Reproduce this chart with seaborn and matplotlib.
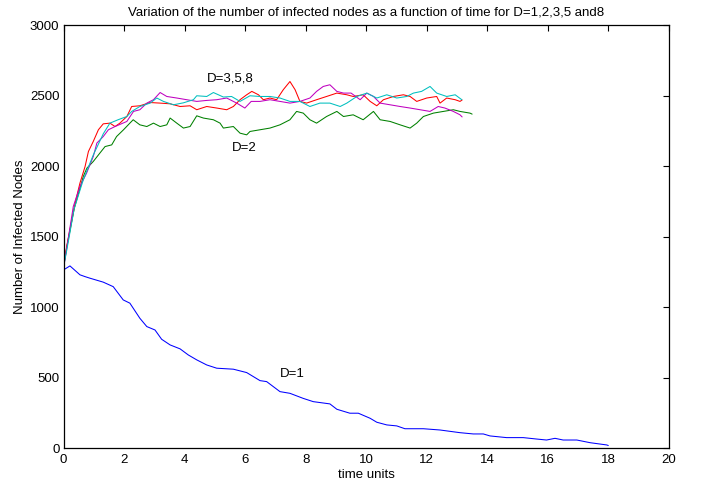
import matplotlib
matplotlib.use("Agg")
import matplotlib.pyplot as plt
import seaborn as sns
import pandas as pd

# ---- data ----
t_d1 = [0.0, 0.21, 0.54, 0.71, 0.87, 1.31, 1.64, 1.97, 2.19, 2.52, 2.75, 3.02, 3.24, 3.52, 3.85,
        4.12, 4.40, 4.73, 5.06, 5.61, 6.05, 6.49, 6.71, 7.15, 7.48, 7.92, 8.25, 8.80, 9.03,
        9.46, 9.74, 10.13, 10.35, 10.68, 11.01, 11.28, 11.89, 12.44, 13.10, 13.54, 13.87,
        14.09, 14.64, 15.19, 15.63, 15.96, 16.24, 16.51, 16.96, 17.40, 17.95, 18.0]
v_d1 = [1266, 1294, 1231, 1218, 1207, 1179, 1147, 1053, 1030, 923, 864, 840, 774, 734, 706,
        663, 628, 592, 569, 562, 538, 481, 474, 403, 391, 355, 332, 316, 278,
        250, 250, 214, 186, 167, 160, 140, 140, 131, 112, 103, 103,
        89, 77, 77, 67, 60, 72, 60, 60, 41, 25, 21]

t_d2 = [0.0, 0.10, 0.35, 0.55, 0.65, 0.77, 0.98, 1.20, 1.37, 1.59, 1.75, 1.98, 2.19, 2.30, 2.52,
        2.75, 2.97, 3.19, 3.41, 3.52, 3.74, 3.96, 4.18, 4.40, 4.62, 4.95, 5.17, 5.28, 5.61,
        5.83, 6.05, 6.16, 6.49, 6.82, 7.15, 7.48, 7.70, 7.92, 8.14, 8.36, 8.69, 9.03, 9.25,
        9.57, 9.90, 10.24, 10.46, 10.79, 11.12, 11.45, 11.67, 11.89, 12.22, 12.55, 12.88,
        13.10, 13.43, 13.50]
v_d2 = [1290, 1420, 1700, 1850, 1928, 1987, 2034, 2094, 2140, 2152, 2211, 2259, 2306, 2330, 2294,
        2282, 2306, 2282, 2294, 2342, 2306, 2271, 2282, 2358, 2342, 2330, 2306, 2271, 2282,
        2235, 2223, 2247, 2259, 2271, 2294, 2330, 2389, 2377, 2330, 2306, 2353, 2389, 2353,
        2365, 2330, 2389, 2330, 2318, 2294, 2271, 2306, 2353, 2377, 2389, 2401,
        2389, 2377, 2370]

t_d3 = [0.0, 0.10, 0.35, 0.65, 0.98, 1.31, 1.53, 1.80, 2.09, 2.25, 2.52, 2.86, 3.08, 3.30, 3.63,
        3.96, 4.29, 4.40, 4.73, 4.95, 5.28, 5.55, 5.83, 6.16, 6.49, 6.82, 7.15, 7.48, 7.81,
        8.14, 8.47, 8.80, 9.14, 9.36, 9.69, 10.02, 10.35, 10.68, 11.01, 11.34, 11.56, 11.83,
        12.11, 12.33, 12.66, 12.94, 13.16]
v_d3 = [1290, 1400, 1700, 1904, 2080, 2230, 2306, 2330, 2353, 2389, 2424, 2448, 2484, 2460, 2436,
        2450, 2472, 2500, 2495, 2523, 2491, 2495, 2460, 2500, 2495, 2495, 2484, 2460, 2460,
        2424, 2448, 2448, 2424, 2448, 2495, 2519, 2484, 2507, 2484, 2495, 2519, 2531,
        2566, 2519, 2495, 2507, 2472]

t_d5 = [0.0, 0.10, 0.38, 0.54, 0.71, 0.82, 0.98, 1.15, 1.31, 1.53, 1.70, 1.86, 2.09, 2.25, 2.52,
        2.86, 3.19, 3.52, 3.85, 4.18, 4.40, 4.73, 5.06, 5.39, 5.61, 5.83, 6.05, 6.22, 6.44,
        6.60, 6.82, 7.04, 7.26, 7.48, 7.65, 7.81, 8.03, 8.36, 8.69, 9.03, 9.36, 9.57, 9.90,
        10.13, 10.35, 10.57, 10.90, 11.23, 11.45, 11.67, 12.00, 12.33, 12.44, 12.66, 12.94,
        13.10, 13.17]
v_d5 = [1294, 1431, 1739, 1881, 1999, 2105, 2176, 2259, 2301, 2306, 2282, 2306, 2353, 2424, 2429,
        2452, 2448, 2443, 2424, 2429, 2401, 2424, 2413, 2401, 2424, 2472, 2507, 2531, 2507,
        2472, 2484, 2472, 2543, 2601, 2543, 2460, 2448, 2472, 2495, 2519, 2507, 2495, 2507,
        2460, 2429, 2472, 2495, 2507, 2495, 2460, 2484, 2495, 2448, 2484, 2472,
        2460, 2470]

t_d8 = [0.0, 0.32, 0.54, 0.76, 0.98, 1.10, 1.31, 1.48, 1.70, 2.09, 2.31, 2.52, 2.75, 2.97, 3.19,
        3.41, 3.74, 4.07, 4.40, 4.73, 5.06, 5.39, 5.72, 5.99, 6.20, 6.49, 6.82, 7.15, 7.48,
        7.81, 8.14, 8.36, 8.58, 8.80, 9.03, 9.25, 9.50, 9.80, 10.02, 10.24, 10.46, 10.79,
        11.12, 11.45, 11.78, 12.11, 12.38, 12.60, 12.88, 13.10, 13.17]
v_d8 = [1280, 1715, 1857, 1952, 2069, 2165, 2211, 2259, 2282, 2318, 2389, 2401, 2448, 2472, 2523,
        2495, 2484, 2472, 2460, 2467, 2472, 2484, 2448, 2413, 2460, 2460, 2472, 2460, 2448,
        2460, 2484, 2531, 2566, 2578, 2531, 2519, 2519, 2472, 2519, 2495, 2448, 2436,
        2424, 2413, 2401, 2389, 2424, 2413, 2389, 2365, 2350]

series_names = ["D=1", "D=2", "D=3", "D=5", "D=8"]
series_t = [t_d1, t_d2, t_d3, t_d5, t_d8]
series_v = [v_d1, v_d2, v_d3, v_d5, v_d8]
colors = {"D=1": "#0000FF", "D=2": "#008000", "D=3": "#00BFBF", "D=5": "#FF0000", "D=8": "#BF00BF"}

title = "Variation of the number of infected nodes as a function of time for D=1,2,3,5 and8"
xlabel = "time units"
ylabel = "Number of Infected Nodes"
xticks = [0, 2, 4, 6, 8, 10, 12, 14, 16, 18, 20]
yticks = [0, 500, 1000, 1500, 2000, 2500, 3000]
annotations = [("D=3,5,8", 5.5, 2620), ("D=2", 5.96, 2129), ("D=1", 7.56, 528)]

frames = []
for name, tt, vv in zip(series_names, series_t, series_v):
    frames.append(pd.DataFrame({"t": tt, "v": vv, "D": name, "order": range(len(tt))}))
df = pd.concat(frames, ignore_index=True)

sns.set_theme(style="white")
plt.rcParams["font.family"] = ["Liberation Sans", "DejaVu Sans"]

FS = 9.5
fig = plt.figure(figsize=(7.02, 4.86), dpi=100)
ax = fig.add_axes([0.0906, 0.0772, 0.8621, 0.8709])

sns.lineplot(data=df, x="t", y="v", hue="D", palette=colors, hue_order=["D=2", "D=5", "D=8", "D=3", "D=1"],
             estimator=None, sort=False, linewidth=0.75, legend=False, ax=ax)

ax.set_xlim(0, 20)
ax.set_ylim(0, 3000)
ax.set_xticks(xticks)
ax.set_yticks(yticks)
ax.tick_params(direction="in", top=True, right=True, length=4, width=0.8, color="black",
               labelsize=FS, labelcolor="black", pad=4)
ax.tick_params(axis="y", pad=3)
for s in ax.spines.values():
    s.set_visible(True)
    s.set_color("black")
    s.set_linewidth(0.9)

ax.set_title(title, fontsize=FS, pad=7, color="black")
ax.set_xlabel(xlabel, fontsize=FS, labelpad=2, color="black")
ax.set_ylabel(ylabel, fontsize=FS, labelpad=3, color="black")

for txt, x, y in annotations:
    ax.text(x, y, txt, ha="center", va="center", fontsize=FS, color="black")

fig.savefig("out.png", dpi=100)
